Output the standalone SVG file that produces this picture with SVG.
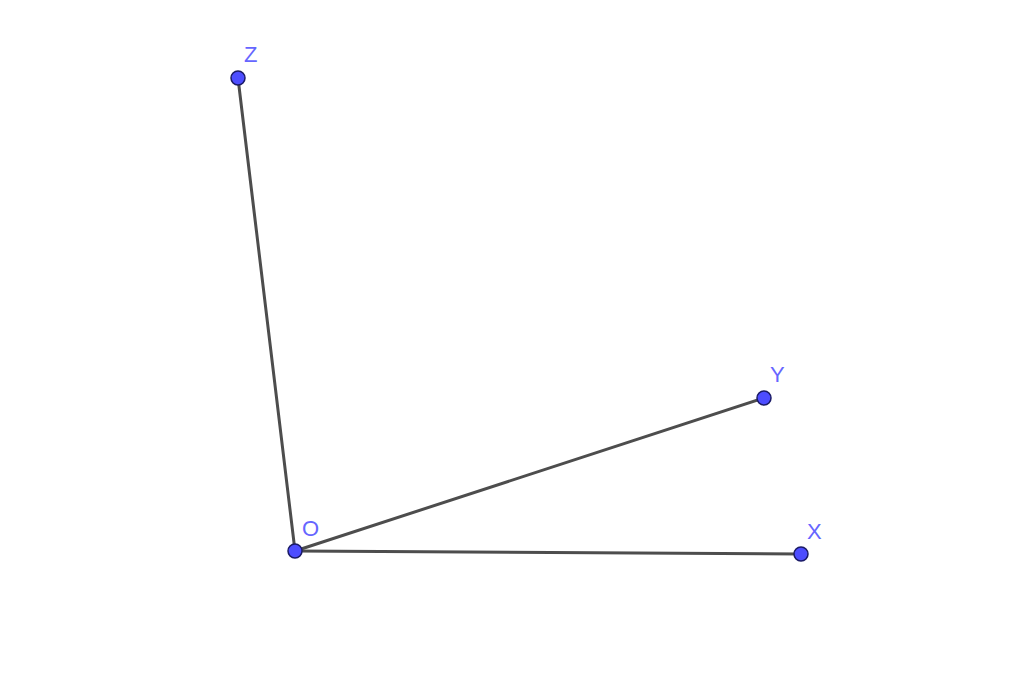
<svg xmlns="http://www.w3.org/2000/svg" width="1024" height="687" viewBox="0 0 1024 687">
<style>
.seg{stroke:#4d4d4d;stroke-width:3;stroke-linecap:round;fill:none}
.pt{fill:#4d4dff;stroke:#1a1a66;stroke-width:1.5}
.lbl{font-family:"Liberation Sans",Arial,sans-serif;font-size:22px;fill:#6666ff}
</style>
<rect width="1024" height="687" fill="#ffffff"/>
<g id="connectors">
<line class="seg" x1="295" y1="551" x2="238" y2="78"/>
<line class="seg" x1="295" y1="551" x2="764" y2="398"/>
<line class="seg" x1="295" y1="551" x2="801" y2="554"/>
</g>
<g id="Z"><circle class="pt" cx="238" cy="78" r="7"/><text class="lbl" x="244" y="62">Z</text></g>
<g id="Y"><circle class="pt" cx="764" cy="398" r="7"/><text class="lbl" x="770" y="382">Y</text></g>
<g id="O"><circle class="pt" cx="295" cy="551" r="7"/><text class="lbl" x="302" y="536">O</text></g>
<g id="X"><circle class="pt" cx="801" cy="554" r="7"/><text class="lbl" x="807" y="539">X</text></g>
</svg>
